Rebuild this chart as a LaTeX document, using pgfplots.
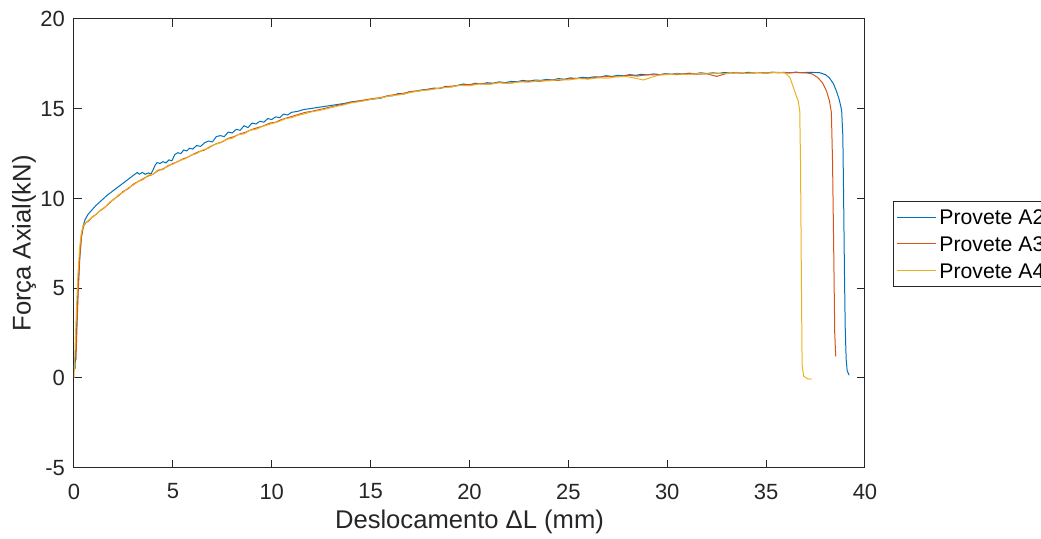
\documentclass[border=0pt]{standalone}
\usepackage{fontspec}
\setmainfont{Liberation Sans}
\usepackage{pgfplots}
\pgfplotsset{compat=1.18}
\definecolor{mblue}{rgb}{0,0.447,0.741}
\definecolor{morange}{rgb}{0.85,0.325,0.098}
\definecolor{myellow}{rgb}{0.929,0.694,0.125}
\definecolor{axgray}{rgb}{0.15,0.15,0.15}
\begin{document}
\begin{tikzpicture}
\begin{axis}[
  at={(37pt,35.65pt)}, anchor=south west,
  width=395.5pt, height=224.35pt, scale only axis,
  xmin=0, xmax=40, ymin=-5, ymax=20,
  xtick={0,5,...,40}, ytick={-5,0,...,20},
  tick pos=both, tick align=inside, major tick length=4pt,
  axis line style={axgray, line width=0.5pt},
  every tick/.style={axgray, line width=0.5pt},
  /pgf/number format/assume math mode=true,
  tick label style={text=axgray, font=\fontsize{11}{13}\selectfont},
  xticklabel style={yshift=-4.5pt},
  yticklabel style={xshift=-1pt},
  label style={text=axgray, font=\fontsize{12.8}{15}\selectfont},
  xlabel={Deslocamento ΔL (mm)},
  ylabel={Força Axial(kN)},
  xlabel style={at={(axis description cs:0.5,-0.121)}, anchor=center},
  ylabel style={at={(axis description cs:-0.0632,0.5)}, anchor=center},
  legend style={at={(1.035,0.595)}, anchor=north west, draw=axgray, line width=0.5pt, fill=white,
    font=\fontsize{10.6}{12}\selectfont, inner xsep=1.65pt, inner ysep=4.25pt,
    row sep=5.85pt, column sep=1.5pt,
    nodes={inner sep=0pt, text height=7.5pt, text depth=0pt, text=black}},
  legend cell align=left,
  legend image code/.code={\draw[#1, line width=0.5pt] (0pt,0pt) -- (19.5pt,0pt);},
  every axis plot/.append style={line width=0.5pt},
]
\addplot[mblue] coordinates {
(0.05,0.5)(0.12,2.5)(0.2,4.8)(0.28,6.6)(0.36,7.7)(0.45,8.4)(0.55,8.8)(0.7,9.1)(0.9,9.35)
(1.1,9.6)(1.4,9.9)(1.7,10.2)(2.0,10.45)(2.3,10.7)(2.6,10.95)(2.9,11.2)(3.2,11.45)(3.3,11.35)
(3.45,11.45)(3.6,11.35)(3.75,11.42)(3.9,11.38)(4.0,11.6)(4.1,11.85)(4.2,12.0)(4.35,11.95)
(4.5,12.05)(4.65,11.98)(4.8,12.15)(4.95,12.1)(5.1,12.45)(5.25,12.55)(5.4,12.5)(5.55,12.7)
(5.7,12.65)(5.85,12.8)(6.0,12.75)(6.2,12.95)(6.4,12.9)(6.6,13.1)(6.8,13.2)(7.0,13.15)
(7.2,13.45)(7.4,13.5)(7.6,13.45)(7.8,13.7)(8.0,13.65)(8.2,13.85)(8.4,13.8)(8.6,14.05)
(8.8,13.95)(9.0,14.2)(9.2,14.15)(9.4,14.3)(9.6,14.25)(9.8,14.45)(10.0,14.4)(10.2,14.55)
(10.4,14.5)(10.6,14.7)(10.8,14.65)(11.0,14.8)(11.3,14.85)(11.6,14.95)(11.9,15.0)(12.2,15.05)
(12.5,15.1)(12.8,15.15)(13.1,15.2)(13.4,15.25)(13.7,15.3)(14.0,15.38)(14.3,15.42)(14.6,15.45)
(14.9,15.5)(15.2,15.55)(15.5,15.58)(15.8,15.7)(16.1,15.72)(16.4,15.85)(16.7,15.82)(17.0,15.95)
(17.3,15.98)(17.6,16.05)(17.9,16.08)(18.2,16.15)(18.5,16.12)(18.8,16.25)(19.1,16.22)(19.4,16.3)
(19.7,16.38)(20.0,16.32)(20.3,16.42)(20.6,16.38)(20.9,16.45)(21.2,16.42)(21.5,16.5)(21.8,16.45)
(22.1,16.52)(22.4,16.5)(22.7,16.58)(23.0,16.52)(23.3,16.6)(23.6,16.58)(23.9,16.63)(24.2,16.6)
(24.5,16.68)(24.8,16.64)(25.1,16.72)(25.4,16.68)(25.7,16.75)(26.0,16.72)(26.3,16.78)(26.6,16.76)
(26.9,16.84)(27.2,16.8)(27.5,16.86)(27.8,16.83)(28.1,16.9)(28.4,16.86)(28.7,16.92)(29.0,16.88)
(29.3,16.94)(29.6,16.9)(29.9,16.95)(30.2,16.92)(30.5,16.97)(30.8,16.93)(31.1,16.98)(31.4,16.95)
(31.7,17.0)(32.0,16.96)(32.3,17.0)(32.6,16.97)(32.9,17.02)(33.2,16.98)(33.5,17.02)(33.8,16.97)
(34.1,17.03)(34.4,16.99)(34.7,17.02)(35.0,16.98)(35.3,17.04)(35.6,17.0)(35.9,17.03)(36.2,16.99)
(36.5,17.04)(36.8,17.0)(37.1,17.03)(37.4,17.02)(37.7,17.01)(38.0,16.9)(38.2,16.72)(38.4,16.4)
(38.55,16.0)(38.7,15.5)(38.82,14.9)(38.88,13.5)(38.92,10.0)(38.96,6.0)(39.0,2.8)(39.05,1.0)
(39.1,0.4)(39.2,0.15)
};
\addlegendentry{Provete A2}
\addplot[morange] coordinates {
(0.1,1.0)(0.15,2.8)(0.22,5.0)(0.3,6.8)(0.38,7.9)(0.48,8.45)(0.6,8.65)(0.75,8.75)(0.9,8.95)
(1.1,9.1)(1.3,9.3)(1.5,9.45)(1.75,9.7)(2.0,9.95)(2.25,10.15)(2.5,10.4)(2.75,10.55)(3.0,10.8)
(3.25,10.95)(3.5,11.1)(3.75,11.25)(4.0,11.35)(4.25,11.55)(4.5,11.65)(4.75,11.8)(5.0,11.95)
(5.25,12.05)(5.5,12.2)(5.75,12.3)(6.0,12.45)(6.3,12.6)(6.6,12.7)(6.9,12.9)(7.2,13.05)
(7.5,13.15)(7.8,13.35)(8.1,13.45)(8.4,13.6)(8.7,13.7)(9.0,13.85)(9.3,13.95)(9.6,14.05)
(9.9,14.2)(10.2,14.25)(10.5,14.4)(10.8,14.5)(11.1,14.6)(11.4,14.7)(11.7,14.8)(12.0,14.85)
(12.4,14.95)(12.8,15.05)(13.2,15.15)(13.6,15.25)(14.0,15.35)(14.5,15.45)(15.0,15.55)(15.5,15.62)
(16.0,15.75)(16.5,15.82)(17.0,15.95)(17.5,16.0)(18.0,16.1)(18.5,16.15)(19.0,16.25)(19.5,16.3)
(20.0,16.35)(20.5,16.4)(21.0,16.38)(21.5,16.46)(22.0,16.42)(22.5,16.5)(23.0,16.55)(23.5,16.52)
(24.0,16.6)(24.5,16.58)(25.0,16.66)(25.5,16.7)(26.0,16.68)(26.5,16.76)(27.0,16.8)(27.5,16.78)
(28.0,16.86)(28.5,16.82)(29.0,16.9)(29.5,16.88)(30.0,16.93)(30.5,16.9)(31.0,16.96)(31.5,16.92)
(32.0,16.95)(32.5,16.8)(33.0,16.97)(33.5,17.0)(34.0,16.97)(34.5,17.02)(35.0,16.99)(35.5,17.03)
(36.0,17.0)(36.5,17.02)(37.0,17.0)(37.3,16.95)(37.6,16.75)(37.85,16.45)(38.05,16.0)(38.2,15.45)
(38.3,14.8)(38.36,12.0)(38.42,7.0)(38.47,2.5)(38.52,1.2)
};
\addlegendentry{Provete A3}
\addplot[myellow] coordinates {
(0.0,0.0)(0.05,1.5)(0.12,3.8)(0.2,5.8)(0.28,7.2)(0.36,8.0)(0.45,8.45)(0.55,8.6)(0.7,8.75)
(0.85,8.9)(1.0,9.0)(1.2,9.2)(1.4,9.4)(1.6,9.55)(1.8,9.8)(2.0,9.92)(2.25,10.2)(2.5,10.35)
(2.75,10.6)(3.0,10.75)(3.25,10.95)(3.5,11.05)(3.75,11.3)(4.0,11.35)(4.25,11.6)(4.5,11.6)
(4.75,11.85)(5.0,11.9)(5.3,12.1)(5.6,12.2)(5.9,12.4)(6.2,12.5)(6.5,12.7)(6.8,12.8)(7.1,13.0)
(7.4,13.1)(7.7,13.3)(8.0,13.35)(8.3,13.55)(8.6,13.6)(8.9,13.8)(9.2,13.85)(9.5,14.0)(9.8,14.1)
(10.1,14.2)(10.4,14.3)(10.7,14.45)(11.0,14.5)(11.3,14.62)(11.6,14.7)(12.0,14.82)(12.4,14.9)
(12.8,15.0)(13.2,15.12)(13.6,15.2)(14.0,15.32)(14.5,15.4)(15.0,15.52)(15.5,15.6)(16.0,15.72)
(16.5,15.78)(17.0,15.9)(17.5,16.0)(18.0,16.05)(18.5,16.15)(19.0,16.2)(19.5,16.3)(20.0,16.28)
(20.5,16.38)(21.0,16.35)(21.5,16.45)(22.0,16.4)(22.5,16.5)(23.0,16.48)(23.5,16.55)(24.0,16.55)
(24.5,16.62)(25.0,16.6)(25.5,16.68)(26.0,16.65)(26.5,16.72)(27.0,16.7)(27.5,16.8)(28.0,16.78)
(28.4,16.7)(28.8,16.6)(29.2,16.75)(29.6,16.88)(30.0,16.9)(30.5,16.94)(31.0,16.9)(31.5,16.96)
(32.0,16.94)(32.5,16.98)(33.0,16.95)(33.5,17.0)(34.0,16.97)(34.5,17.01)(35.0,16.98)(35.5,17.02)
(35.95,17.0)(36.2,16.75)(36.36,16.25)(36.5,15.8)(36.62,15.45)(36.7,14.9)(36.74,12.0)(36.78,6.0)
(36.82,0.7)(36.9,0.1)(36.96,0.05)(37.1,-0.05)(37.3,-0.07)
};
\addlegendentry{Provete A4}
\end{axis}
\pgfresetboundingbox
\path[use as bounding box] (0,0) rectangle (520.5pt,269.5pt);
\end{tikzpicture}
\end{document}
